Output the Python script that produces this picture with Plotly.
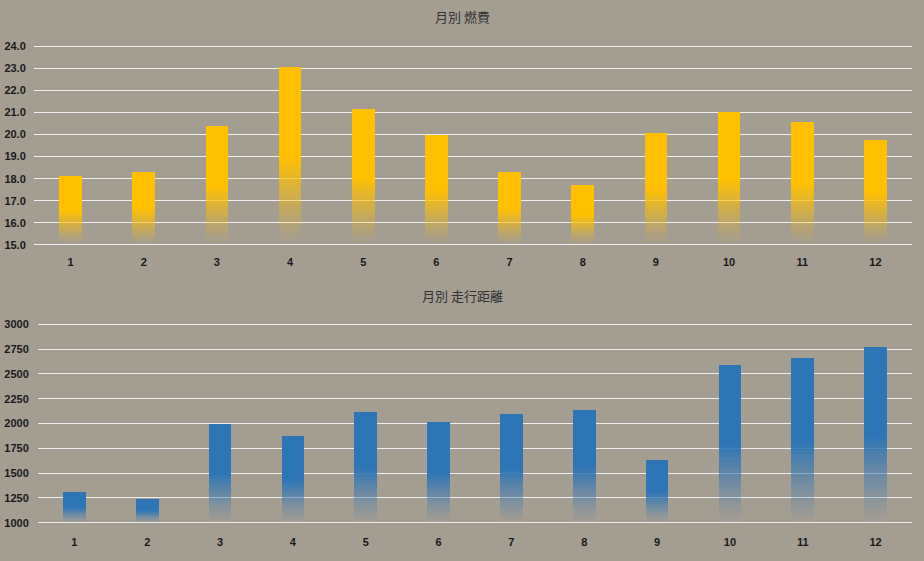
import plotly.graph_objects as go

months = ["1", "2", "3", "4", "5", "6", "7", "8", "9", "10", "11", "12"]
fuel = [18.1, 18.3, 20.4, 23.05, 21.15, 20.0, 18.3, 17.7, 20.05, 21.0, 20.55, 19.75]
distance = [1310, 1245, 1995, 1875, 2115, 2015, 2095, 2140, 1635, 2590, 2660, 2775]

title_fuel = "月別 燃費"
title_dist = "月別 走行距離"

BG = "#A49D92"
GRID = "#EEEEEE"
YELLOW = "255,192,0"
BLUE = "46,117,182"

fig = go.Figure()


def add_gradient_bars(values, floor, rgb, xa, ya, nseg=18, frac=0.5):
    # solid upper part
    solid_base = [floor + (v - floor) * frac for v in values]
    fig.add_trace(go.Bar(
        x=months, y=[v - b for v, b in zip(values, solid_base)], base=solid_base,
        marker=dict(color=f"rgb({rgb})", line=dict(width=0)),
        width=0.31, xaxis=xa, yaxis=ya, showlegend=False, hoverinfo="skip"))
    # fading lower part
    for k in range(nseg):
        f0 = frac * k / nseg
        f1 = frac * (k + 1) / nseg
        alpha = ((k + 0.5) / nseg) ** 1.2
        bases = [floor + (v - floor) * f0 for v in values]
        heights = [(v - floor) * (f1 - f0) for v in values]
        fig.add_trace(go.Bar(
            x=months, y=heights, base=bases,
            marker=dict(color=f"rgba({rgb},{alpha:.3f})", line=dict(width=0)),
            width=0.31, xaxis=xa, yaxis=ya, showlegend=False, hoverinfo="skip"))


add_gradient_bars(fuel, 15.0, YELLOW, "x", "y")
add_gradient_bars(distance, 1000, BLUE, "x2", "y2")

tickfont = dict(family="Liberation Sans", size=11, color="#1a1a1a", weight="bold")

fig.update_layout(
    width=924, height=561,
    paper_bgcolor=BG, plot_bgcolor=BG,
    margin=dict(l=0, r=0, t=0, b=0),
    barmode="overlay",
    bargap=0,
    xaxis=dict(domain=[34 / 924, 912 / 924], anchor="y", type="category",
               showgrid=False, showline=False, zeroline=False,
               ticks="outside", ticklen=5, tickcolor="rgba(0,0,0,0)",
               tickfont=tickfont),
    yaxis=dict(domain=[1 - 246.6 / 561, 1 - 40.6 / 561], anchor="x",
               range=[14.9, 24.1], dtick=1, tick0=0, tickformat=".1f",
               showgrid=True, gridcolor=GRID, gridwidth=1,
               zeroline=False, showline=False,
               ticks="outside", ticklen=5, tickcolor="rgba(0,0,0,0)",
               tickfont=tickfont),
    xaxis2=dict(domain=[38 / 924, 912 / 924], anchor="y2", type="category",
                showgrid=False, showline=False, zeroline=False,
                ticks="outside", ticklen=7, tickcolor="rgba(0,0,0,0)",
                tickfont=tickfont),
    yaxis2=dict(domain=[1 - 528.8 / 561, 1 - 322.5 / 561], anchor="x2",
                range=[975, 3025], dtick=250, tick0=0,
                showgrid=True, gridcolor=GRID, gridwidth=1,
                zeroline=False, showline=False,
                ticks="outside", ticklen=6, tickcolor="rgba(0,0,0,0)",
                tickfont=tickfont),
    annotations=[
        dict(text=title_fuel, x=0.5, y=1 - 13 / 561, xref="paper", yref="paper",
             showarrow=False, xanchor="center", yanchor="middle",
             font=dict(family="Noto Sans CJK JP", size=13, color="#333333")),
        dict(text=title_dist, x=0.5, y=1 - 296 / 561, xref="paper", yref="paper",
             showarrow=False, xanchor="center", yanchor="middle",
             font=dict(family="Noto Sans CJK JP", size=13, color="#333333")),
    ],
)

fig.write_html("out.html", config={"displayModeBar": False},
               post_script="document.body.style.margin='0';document.body.style.overflow='hidden';")
